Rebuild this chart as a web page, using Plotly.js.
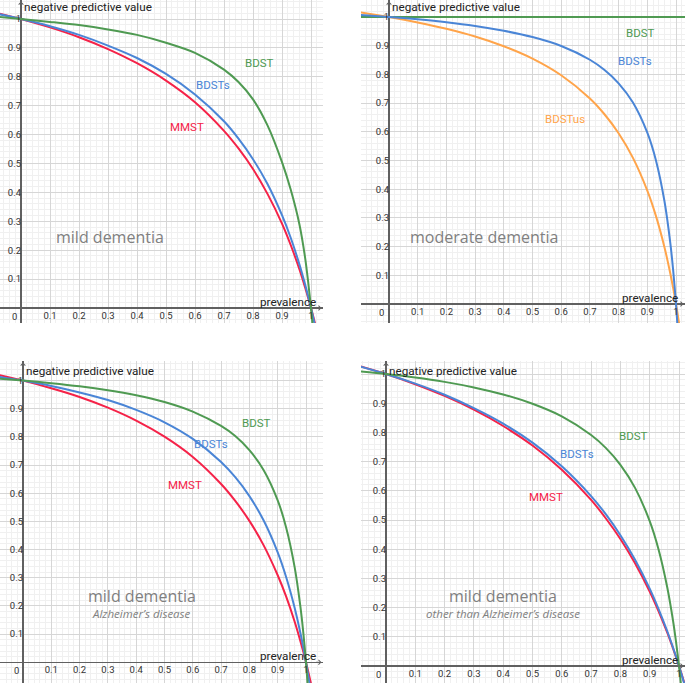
<!DOCTYPE html>
<html><head><meta charset="utf-8">
<script src="https://cdn.plot.ly/plotly-3.0.1.min.js"></script>
<style>html,body{margin:0;padding:0;background:#fff}#chart{width:685px;height:683px}</style>
</head><body><div id="chart"></div>
<script>
// ---------------- data ----------------
const prevalence = [-0.1, 0, 0.1, 0.2, 0.3, 0.4, 0.5, 0.6, 0.7, 0.75, 0.8, 0.85, 0.9, 0.93, 0.96, 0.98, 0.99, 1, 1.01, 1.02];

// panel 1: mild dementia
const mildBDST  = [1.009, 1, 0.99, 0.979, 0.964, 0.945, 0.918, 0.883, 0.825, 0.782, 0.722, 0.632, 0.505, 0.41, 0.29, 0.172, 0.092, 0, -0.11, -0.24];
const mildBDSTs = [1.022, 1, 0.975, 0.945, 0.908, 0.865, 0.81, 0.739, 0.646, 0.586, 0.515, 0.429, 0.321, 0.243, 0.151, 0.08, 0.041, 0, -0.044, -0.091];
const mildMMST  = [1.025, 1, 0.971, 0.937, 0.896, 0.847, 0.787, 0.712, 0.613, 0.552, 0.481, 0.395, 0.292, 0.218, 0.134, 0.07, 0.036, 0, -0.038, -0.078];

// panel 2: moderate dementia
const modBDSTx   = [-0.1, 1.05];
const modBDST    = [1, 1];
const modBDSTs   = [1.007, 1, 0.992, 0.982, 0.969, 0.952, 0.930, 0.899, 0.851, 0.816, 0.769, 0.702, 0.597, 0.501, 0.357, 0.214, 0.119, 0, -0.152, -0.354];
const modBDSTus  = [1.016, 1, 0.981, 0.959, 0.932, 0.898, 0.855, 0.797, 0.716, 0.662, 0.595, 0.509, 0.395, 0.307, 0.197, 0.107, 0.056, 0, -0.062, -0.13];

// panel 3: mild dementia, Alzheimer's disease
const adBDST  = [1.008, 1, 0.991, 0.98, 0.966, 0.948, 0.924, 0.89, 0.839, 0.803, 0.753, 0.683, 0.575, 0.478, 0.337, 0.199, 0.11, 0, -0.137, -0.314];
const adBDSTs = [1.016, 1, 0.981, 0.958, 0.931, 0.896, 0.852, 0.793, 0.711, 0.657, 0.59, 0.504, 0.39, 0.302, 0.193, 0.105, 0.055, 0, -0.06, -0.127];
const adMMST  = [1.023, 1, 0.973, 0.942, 0.904, 0.858, 0.801, 0.729, 0.633, 0.573, 0.502, 0.416, 0.309, 0.233, 0.144, 0.076, 0.039, 0, -0.042, -0.086];

// panel 4: mild dementia, other than Alzheimer's disease
const nonAdBDST  = [1.010, 1, 0.988, 0.973, 0.954, 0.93, 0.898, 0.855, 0.791, 0.747, 0.689, 0.61, 0.496, 0.4, 0.269, 0.153, 0.082, 0, -0.096, -0.21];
const nonAdBDSTs = [1.029, 1, 0.967, 0.929, 0.883, 0.83, 0.765, 0.684, 0.582, 0.52, 0.448, 0.364, 0.265, 0.196, 0.119, 0.062, 0.032, 0, -0.033, -0.068];
const nonAdMMST  = [1.03, 1, 0.965, 0.925, 0.878, 0.822, 0.755, 0.672, 0.569, 0.506, 0.435, 0.352, 0.255, 0.188, 0.114, 0.059, 0.03, 0, -0.031, -0.064];

// ticks
const tickValues = [0, 0.1, 0.2, 0.3, 0.4, 0.5, 0.6, 0.7, 0.8, 0.9, 1];
const tickLabels = ['', '0.1', '0.2', '0.3', '0.4', '0.5', '0.6', '0.7', '0.8', '0.9', '1'];

// texts
const xTitle = 'prevalence';
const yTitle = 'negative predictive value';
const panelTitles = ['mild dementia', 'moderate dementia', 'mild dementia', 'mild dementia'];
const panelSubtitles = ['', '', "Alzheimer’s disease", "other than Alzheimer’s disease"];

// ---------------- styling / layout ----------------
const W = 685, H = 683;
const GREEN = '#4f9a52', BLUE = '#4a85d6', RED = '#f52248', ORANGE = '#ffa44a', GRAYTXT = '#808080';

// panel geometry in pixels
const panels = [
  {left: 0,   right: 323, top: 0,   bottom: 323, ox: 21,  oy: 308,   sx: 290, sy: 289},
  {left: 361, right: 685, top: 0,   bottom: 323, ox: 389, oy: 304,   sx: 287, sy: 287},
  {left: 0,   right: 323, top: 361, bottom: 683, ox: 23,  oy: 662.3, sx: 283, sy: 281.7},
  {left: 361, right: 685, top: 361, bottom: 683, ox: 386, oy: 666,   sx: 293, sy: 292}
];

const layout = {
  width: W, height: H,
  margin: {l: 0, r: 0, t: 0, b: 0, pad: 0},
  paper_bgcolor: '#fff', plot_bgcolor: '#fff',
  showlegend: false,
  annotations: [],
  font: {family: 'Roboto, sans-serif', color: '#222'}
};

panels.forEach((p, i) => {
  const n = i === 0 ? '' : String(i + 1);
  const xr = [(p.left - p.ox) / p.sx, (p.right - p.ox) / p.sx];
  const yr = [(p.oy - p.bottom) / p.sy, (p.oy - p.top) / p.sy];
  const common = {
    tickmode: 'array', tickvals: tickValues, ticktext: tickLabels,
    showgrid: true, gridcolor: '#d6d6d6', gridwidth: 1,
    zeroline: true, zerolinecolor: '#606060', zerolinewidth: 1.5,
    showline: false, ticks: '',
    tickfont: {family: 'Roboto, sans-serif', size: 9.5, color: '#333'},
    minor: {tickmode: 'linear', tick0: 0, dtick: 0.02, showgrid: true, gridcolor: '#f0f0f0', gridwidth: 1},
    fixedrange: true, anchor: 'free'
  };
  layout['xaxis' + n] = Object.assign({}, common, {
    domain: [p.left / W, p.right / W], range: xr, position: 1 - p.oy / H
  });
  layout['yaxis' + n] = Object.assign({}, common, {
    domain: [1 - p.bottom / H, 1 - p.top / H], range: yr, position: p.ox / W
  });
  const xa = 'x' + n, ya = 'y' + n;
  layout.annotations.push({xref: xa, yref: ya, x: 0, y: 0, text: '0', showarrow: false,
    xanchor: 'center', yanchor: 'middle', xshift: -7, yshift: -8,
    font: {family: 'Roboto, sans-serif', size: 9.5, color: '#333'}});
  layout.annotations.push({xref: xa, yref: ya + ' domain', x: 0, y: 1, text: yTitle, showarrow: false,
    xanchor: 'left', yanchor: 'top', xshift: 1, yshift: i >= 2 ? -1 : 2,
    font: {family: 'Roboto, sans-serif', size: 11.7, color: '#222'}});
  layout.annotations.push({xref: xa, yref: ya, x: xr[1], y: 0, text: xTitle, showarrow: false,
    xanchor: 'right', yanchor: 'middle', xshift: -5, yshift: 6,
    font: {family: 'Roboto, sans-serif', size: 11.7, color: '#222'}});
  layout.annotations.push({xref: xa, yref: ya, x: xr[1] - 1.5 / p.sx, y: 0, ax: -7, ay: 0,
    text: '', showarrow: true, arrowhead: 4, arrowsize: 0.9, arrowwidth: 1, arrowcolor: '#606060'});
  layout.annotations.push({xref: xa, yref: ya, x: 0, y: yr[1] - 1.5 / p.sy, ax: 0, ay: 7,
    text: '', showarrow: true, arrowhead: 4, arrowsize: 0.9, arrowwidth: 1, arrowcolor: '#606060'});
});

function curve(x, y, color, n) {
  return {x: x, y: y, xaxis: 'x' + n, yaxis: 'y' + n, type: 'scatter', mode: 'lines',
    line: {color: color, width: 2, shape: 'spline', smoothing: 0.8}, hoverinfo: 'skip'};
}

const data = [
  curve(prevalence, mildMMST, RED, ''),
  curve(prevalence, mildBDSTs, BLUE, ''),
  curve(prevalence, mildBDST, GREEN, ''),
  curve(modBDSTx, modBDST, GREEN, '2'),
  curve(prevalence, modBDSTus, ORANGE, '2'),
  curve(prevalence, modBDSTs, BLUE, '2'),
  curve(prevalence, adMMST, RED, '3'),
  curve(prevalence, adBDSTs, BLUE, '3'),
  curve(prevalence, adBDST, GREEN, '3'),
  curve(prevalence, nonAdMMST, RED, '4'),
  curve(prevalence, nonAdBDSTs, BLUE, '4'),
  curve(prevalence, nonAdBDST, GREEN, '4')
];

function label(n, x, y, text, color) {
  layout.annotations.push({xref: 'x' + n, yref: 'y' + n, x: x, y: y, text: text, showarrow: false,
    xanchor: 'center', yanchor: 'middle', font: {family: 'Roboto, sans-serif', size: 11.5, color: color}});
}
label('', 0.824, 0.849, 'BDST', GREEN);
label('', 0.663, 0.772, 'BDSTs', BLUE);
label('', 0.571, 0.627, 'MMST', RED);
label('2', 0.875, 0.943, 'BDST', GREEN);
label('2', 0.857, 0.848, 'BDSTs', BLUE);
label('2', 0.613, 0.643, 'BDSTus', ORANGE);
label('3', 0.826, 0.851, 'BDST', GREEN);
label('3', 0.663, 0.775, 'BDSTs', BLUE);
label('3', 0.572, 0.629, 'MMST', RED);
label('4', 0.844, 0.788, 'BDST', GREEN);
label('4', 0.651, 0.725, 'BDSTs', BLUE);
label('4', 0.546, 0.58, 'MMST', RED);

const titlePos = [[0.307, 0.245], [0.334, 0.232], [0.419, 0.236], [0.40, 0.241]];
const subPos = [null, null, [0.419, 0.174], [0.40, 0.18]];
panelTitles.forEach((t, i) => {
  const n = i === 0 ? '' : String(i + 1);
  layout.annotations.push({xref: 'x' + n, yref: 'y' + n, x: titlePos[i][0], y: titlePos[i][1], text: t,
    showarrow: false, xanchor: 'center', yanchor: 'middle',
    font: {family: '"Open Sans", sans-serif', size: 16, color: GRAYTXT}});
  if (panelSubtitles[i]) {
    layout.annotations.push({xref: 'x' + n, yref: 'y' + n, x: subPos[i][0], y: subPos[i][1],
      text: '<i>' + panelSubtitles[i] + '</i>', showarrow: false, xanchor: 'center', yanchor: 'middle',
      font: {family: '"Open Sans", sans-serif', size: 11.5, color: GRAYTXT}});
  }
});

Plotly.newPlot('chart', data, layout, {displayModeBar: false, staticPlot: true});
</script>
</body></html>
